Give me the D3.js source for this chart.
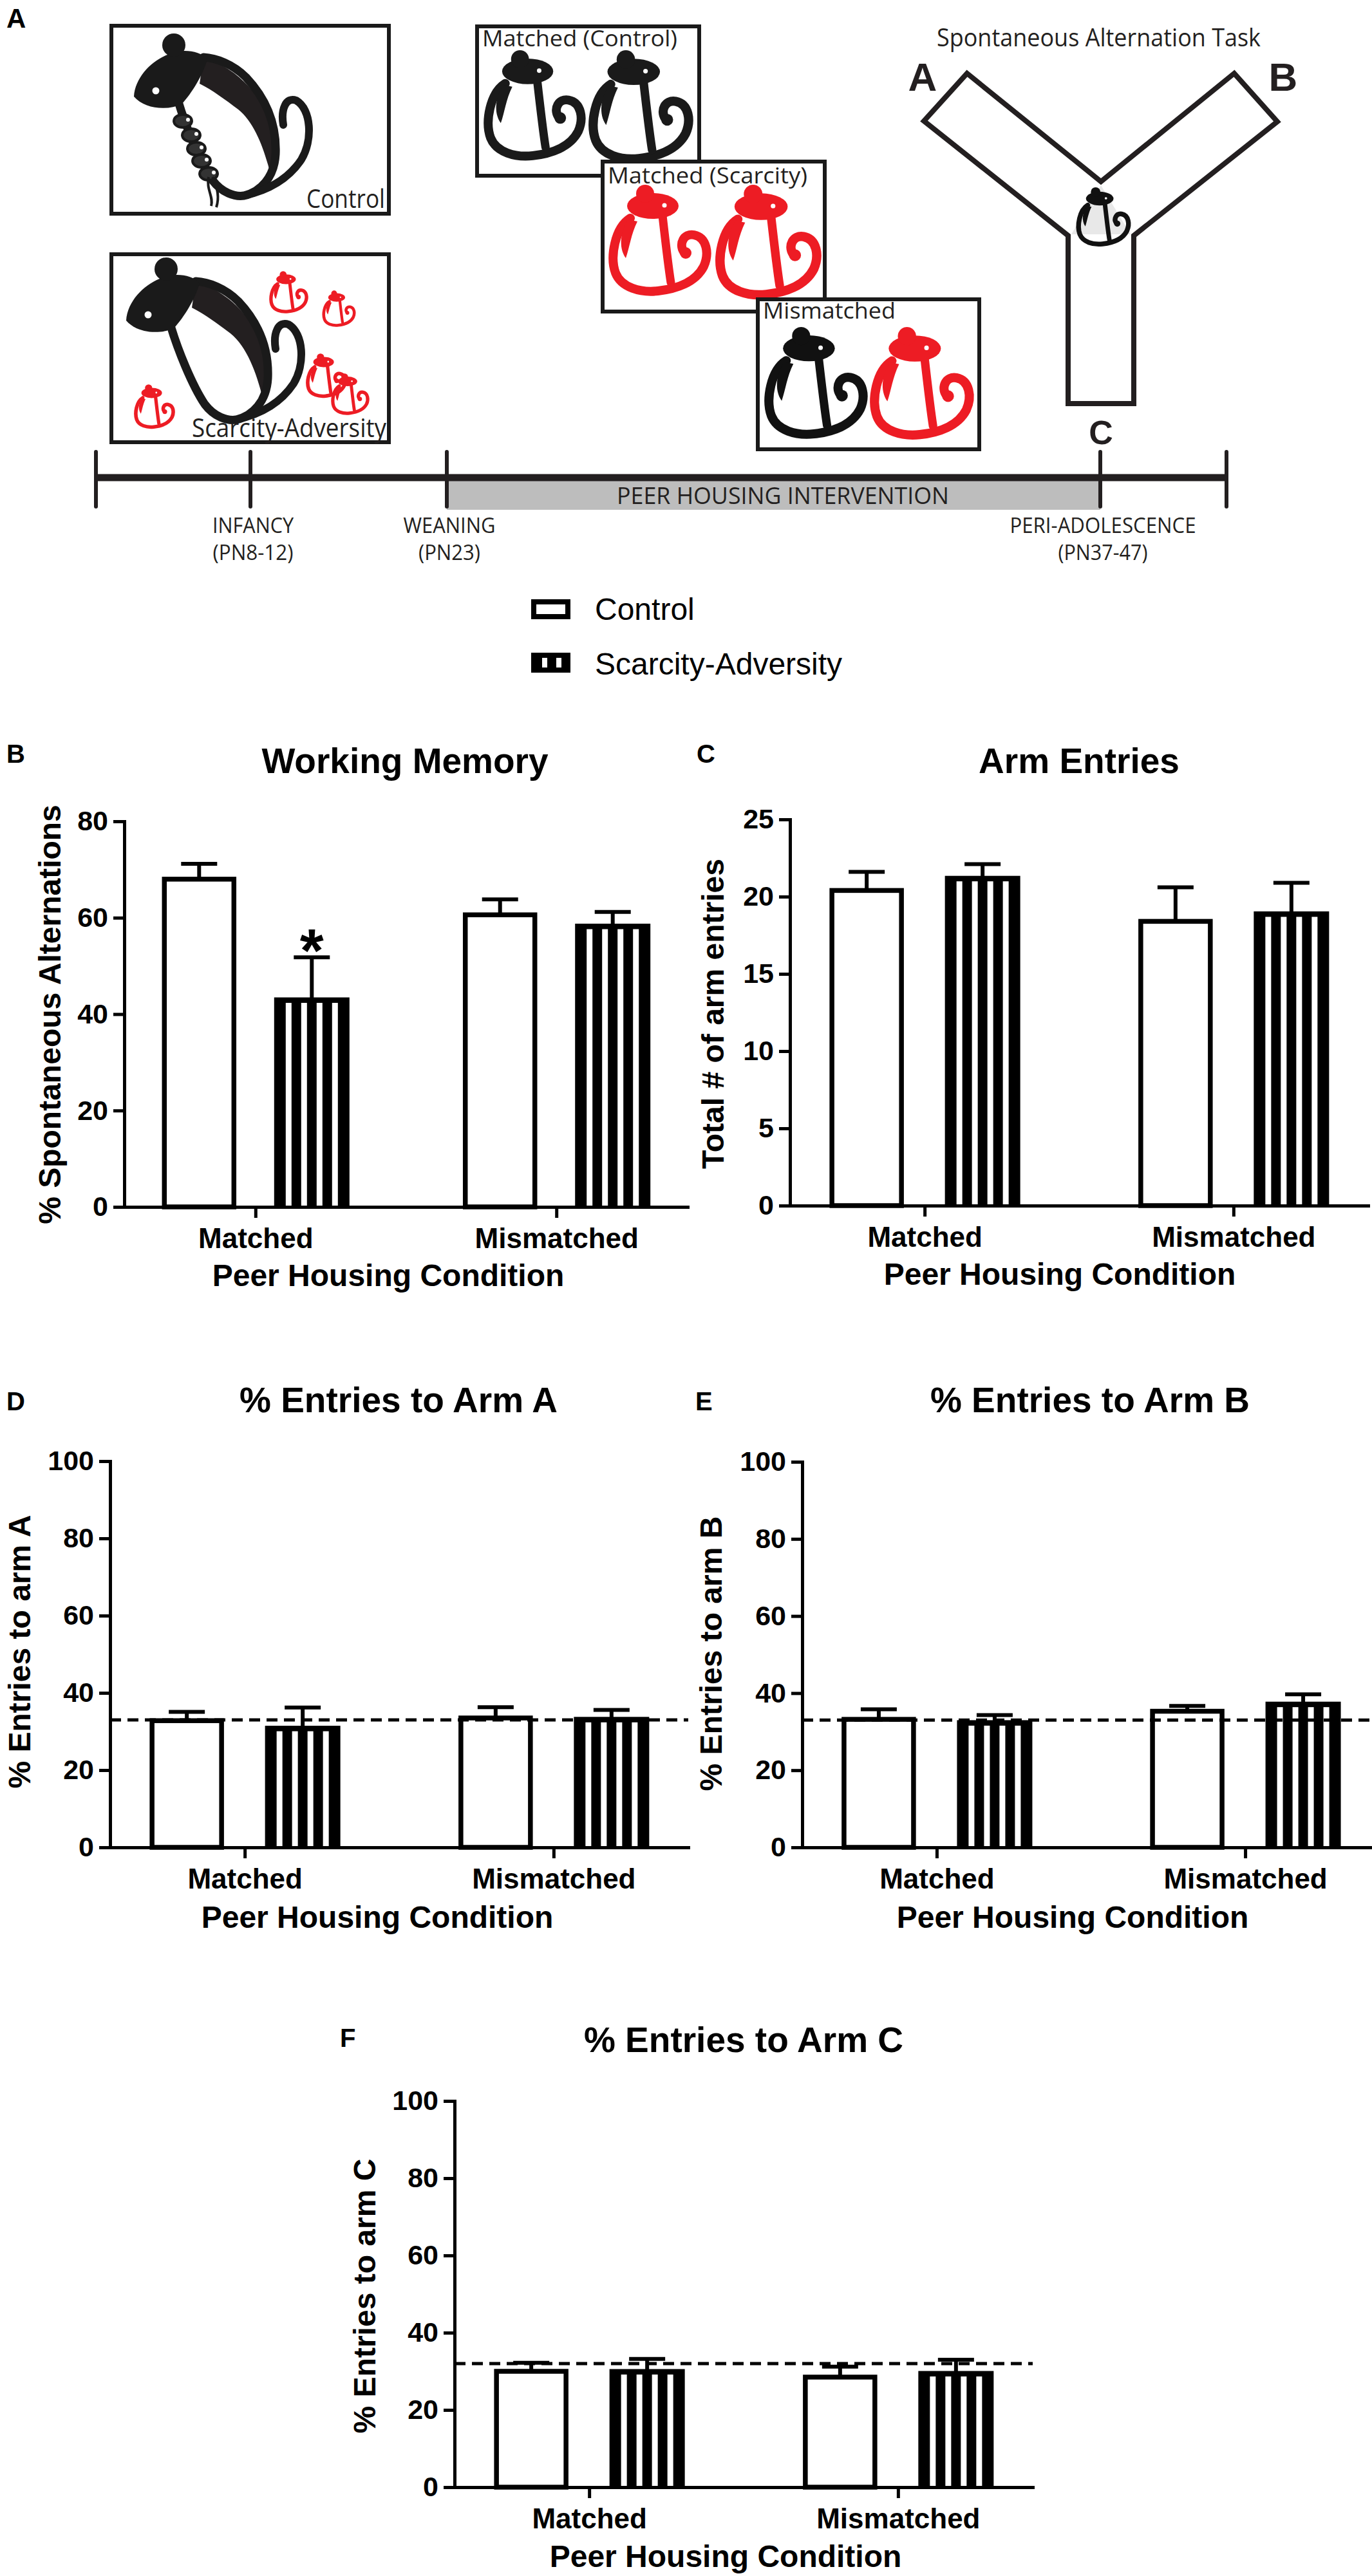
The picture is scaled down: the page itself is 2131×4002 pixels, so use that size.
<!DOCTYPE html>
<html>
<head>
<meta charset="utf-8">
<script src="https://cdn.jsdelivr.net/npm/d3@7"></script>
<style>
  body { margin: 0; background: #fff; }
</style>
</head>
<body>
<svg id="fig"></svg>
<script>
const width = 2131,
      height = 4002;

const FONT = "'Liberation Sans', Arial, sans-serif";
const NARROW = "'Liberation Sans Narrow', 'Open Sans', sans-serif";
const INK = "#1a1a1a";
const RED = "#ed1c24";

// ---- data ----
const conditions = ["Matched", "Mismatched"];
const groups = ["Control", "Scarcity-Adversity"];

const wmControl = [68.0, 60.6],   wmControlErr = [3.2, 3.2];
const wmScarcity = [43.0, 58.3],  wmScarcityErr = [8.8, 2.9];

const entControl = [20.4, 18.4],  entControlErr = [1.2, 2.2];
const entScarcity = [21.2, 18.9], entScarcityErr = [0.9, 2.0];

const armAControl = [32.8, 33.5],  armAControlErr = [2.3, 2.8];
const armAScarcity = [30.9, 33.2], armAScarcityErr = [5.3, 2.4];

const armBControl = [33.2, 35.3],  armBControlErr = [2.6, 1.4];
const armBScarcity = [32.4, 37.2], armBScarcityErr = [1.9, 2.5];

const armCControl = [30.0, 28.5],  armCControlErr = [2.2, 2.7];
const armCScarcity = [30.0, 29.5], armCScarcityErr = [3.2, 3.5];

const chanceLevel = [33, 33, 32];   // dashed reference lines in D, E, F

const ticksWM = [0, 20, 40, 60, 80];
const ticksEnt = [0, 5, 10, 15, 20, 25];
const ticksPct = [0, 20, 40, 60, 80, 100];

const stageNames = ["INFANCY", "WEANING", "PERI-ADOLESCENCE"];
const stageAges = ["(PN8-12)", "(PN23)", "(PN37-47)"];

const svg = d3.select("#fig").attr("width", width).attr("height", height);
svg.append("rect").attr("width", width).attr("height", height).attr("fill", "#fff");

// narrow text, width forced to what the picture shows
function ntext(g, str, x, y, len, size, anchor) {
    return g.append("text")
        .attr("x", x).attr("y", y)
        .attr("font-family", NARROW).attr("font-size", size)
        .attr("fill", "#231f20")
        .attr("text-anchor", anchor || "start")
        .attr("textLength", len).attr("lengthAdjust", "spacingAndGlyphs")
        .text(str);
}

// small curled mouse, local box 150 x 165
function mouse(g, x, y, w, color) {
    const s = w / 150;
    const m = g.append("g").attr("transform", `translate(${x},${y}) scale(${s})`);
    m.append("path")
        .attr("d", "M29,50 C5,65 -3,110 6,135 C15,158 45,166 72,163 C100,160 130,150 143,125 C152,105 148,80 128,76 C112,73 104,90 112,102")
        .attr("fill", "none").attr("stroke", color).attr("stroke-width", 14).attr("stroke-linecap", "round");
    m.append("path")
        .attr("d", "M79,46 C84,90 88,125 92,150")
        .attr("fill", "none").attr("stroke", color).attr("stroke-width", 13).attr("stroke-linecap", "round");
    m.append("path")
        .attr("d", "M26,52 C14,70 10,95 22,112 C28,95 30,75 40,55 Z")
        .attr("fill", color);
    m.append("circle").attr("cx", 115).attr("cy", 104).attr("r", 9).attr("fill", color);
    m.append("ellipse").attr("cx", 64).attr("cy", 31).attr("rx", 40).attr("ry", 20).attr("fill", color);
    m.append("circle").attr("cx", 52).attr("cy", 12).attr("r", 14).attr("fill", color);
    m.append("circle").attr("cx", 82).attr("cy", 30).attr("r", 3.5).attr("fill", "#fff");
}

// big adult mouse, origin at the ear
function mother(g, x, y, pups) {
    const m = g.append("g").attr("transform", `translate(${x},${y})`);
    m.append("path")
        .attr("d", "M46,19 C102,38 140,80 156,139 C160,165 156,185 150,200 C140,160 125,120 100,100 C80,85 60,70 40,60 Z")
        .attr("fill", "#231f20");
    m.append("path")
        .attr("d", "M7,88 C18,125 40,180 60,210 C75,230 95,236 109,234 C135,228 156,205 158,170 C160,125 145,85 112,50 C92,30 66,20 46,19")
        .attr("fill", "none").attr("stroke", INK).attr("stroke-width", 13).attr("stroke-linecap", "round");
    m.append("path")
        .attr("d", "M109,234 C150,225 180,205 198,178 C216,148 214,100 190,86 C174,80 166,100 170,124")
        .attr("fill", "none").attr("stroke", INK).attr("stroke-width", 12).attr("stroke-linecap", "round");
    m.append("path")
        .attr("d", "M-62,80 C-60,50 -35,25 -10,15 C10,5 40,8 52,22 C46,45 28,75 12,92 C-10,102 -45,100 -62,80 Z")
        .attr("fill", INK);
    m.append("circle").attr("r", 18).attr("fill", INK);
    m.append("circle").attr("cx", -28).attr("cy", 71).attr("r", 5.5).attr("fill", "#fff");
    if (pups) {
        const spots = [[14, 118], [27, 140], [35, 161], [43, 180], [54, 200]];
        spots.forEach(([px, py]) => {
            m.append("ellipse").attr("cx", px).attr("cy", py).attr("rx", 14).attr("ry", 10)
                .attr("fill", "#333").attr("stroke", INK).attr("stroke-width", 4);
            m.append("circle").attr("cx", px + 8).attr("cy", py - 2).attr("r", 3).attr("fill", "#fff");
        });
        m.append("path").attr("d", "M54,205 C50,225 62,235 58,250 M60,205 C70,225 70,240 66,252")
            .attr("fill", "none").attr("stroke", INK).attr("stroke-width", 4);
    }
}

// ---------------- panel A ----------------
const A = svg.append("g");
A.append("text").attr("x", 10).attr("y", 43).attr("font-family", FONT).attr("font-weight", "bold")
    .attr("font-size", 42).text("A");

function box(x0, y0, x1, y1) {
    A.append("rect").attr("x", x0 + 3).attr("y", y0 + 3).attr("width", x1 - x0 - 6).attr("height", y1 - y0 - 6)
        .attr("fill", "#fff").attr("stroke", INK).attr("stroke-width", 6);
}

box(170, 37, 607, 335);
mother(A, 270, 70, true);
ntext(A, "Control", 598, 323, 122, 40, "end");

box(170, 392, 607, 690);
mother(A, 258, 418, false);
[[420, 422, 57], [502, 452, 49], [477, 550, 60], [516, 581, 56], [210, 598, 60]]
    .forEach(([x, y, w]) => mouse(A, x, y, w, RED));
ntext(A, "Scarcity-Adversity", 600, 679, 302, 40, "end");

box(738, 38, 1089, 276);
ntext(A, "Matched (Control)", 749, 72, 303, 34);
mouse(A, 756, 80, 149, INK);
mouse(A, 919, 80, 153, INK);

box(933, 248, 1284, 487);
ntext(A, "Matched (Scarcity)", 944, 285, 310, 34);
mouse(A, 950, 289, 150, RED);
mouse(A, 1116, 289, 155, RED);

box(1174, 462, 1524, 701);
ntext(A, "Mismatched", 1185, 495, 206, 34);
mouse(A, 1192, 510, 151, "#111");
mouse(A, 1356, 510, 152, RED);

// Y maze
ntext(A, "Spontaneous Alternation Task", 1455, 72, 503, 38);
A.append("polygon")
    .attr("points", "1502,114 1435,188 1659,366 1659,627 1761,627 1761,366 1984,189 1917,114 1710,282")
    .attr("fill", "#fff").attr("stroke", "#231f20").attr("stroke-width", 8).attr("stroke-linejoin", "miter");
A.append("polygon").attr("points", "1710,288 1664,364 1756,364").attr("fill", "#e8e8e8");
mouse(A, 1674, 292, 80, "#111");
[["A", 1433, 141, 62], ["B", 1993, 141, 62], ["C", 1710, 690, 52]].forEach(([t, x, y, s]) => {
    A.append("text").attr("x", x).attr("y", y).attr("text-anchor", "middle")
        .attr("font-family", FONT).attr("font-weight", "bold").attr("font-size", s)
        .attr("fill", "#231f20").text(t);
});

// timeline
const stageX = [149, 389, 694, 1709, 1905];
A.append("rect").attr("x", stageX[2]).attr("y", 747).attr("width", stageX[3] - stageX[2]).attr("height", 45)
    .attr("fill", "#bdbdbd");
A.append("line").attr("x1", stageX[0]).attr("x2", stageX[4]).attr("y1", 742).attr("y2", 742)
    .attr("stroke", "#231f20").attr("stroke-width", 11);
A.selectAll("line.tk").data(stageX).join("line").attr("class", "tk")
    .attr("x1", d => d).attr("x2", d => d).attr("y1", 702).attr("y2", 787)
    .attr("stroke", "#231f20").attr("stroke-width", 6).attr("stroke-linecap", "round");
ntext(A, "PEER HOUSING INTERVENTION", 1216, 783, 516, 37, "middle");
const nameLen = [126, 143, 289], ageLen = [125, 96, 139];
[1, 2, 3].forEach((k, i) => {
    ntext(A, stageNames[i], stageX[k] + 4, 828, nameLen[i], 32, "middle");
    ntext(A, stageAges[i], stageX[k] + 4, 870, ageLen[i], 32, "middle");
});

// legend
const L = svg.append("g");
L.append("rect").attr("x", 829).attr("y", 935).attr("width", 53).attr("height", 23)
    .attr("fill", "#fff").attr("stroke", "#000").attr("stroke-width", 8);
L.append("rect").attr("x", 825).attr("y", 1014).attr("width", 61).attr("height", 31).attr("fill", "#000");
[842, 864].forEach(x => L.append("rect").attr("x", x).attr("y", 1022).attr("width", 8).attr("height", 15).attr("fill", "#fff"));
L.append("text").attr("x", 924).attr("y", 963).attr("font-family", FONT).attr("font-size", 48).text(groups[0]);
L.append("text").attr("x", 924).attr("y", 1048).attr("font-family", FONT).attr("font-size", 48).text(groups[1]);

// ---------------- bar panels ----------------
const panels = [
    { letter: "B", lx: 10, ly: 1185, title: "Working Memory", tx: 629, ty: 1201,
      x0: 193, xEnd: 1068, y0: 1875, y1: 1276, max: 80, ticks: ticksWM, off: 87.5,
      ylab: "% Spontaneous Alternations", ylx: 77, yly: 1576, xlx: 603, xly: 1998,
      control: wmControl, controlErr: wmControlErr, scarcity: wmScarcity, scarcityErr: wmScarcityErr,
      star: [["Matched", "Scarcity-Adversity"]] },
    { letter: "C", lx: 1082, ly: 1185, title: "Arm Entries", tx: 1676, ty: 1201,
      x0: 1227, xEnd: 2125, y0: 1873, y1: 1273, max: 25, ticks: ticksEnt, off: 90,
      ylab: "Total # of arm entries", ylx: 1107, yly: 1575, xlx: 1646, xly: 1996,
      control: entControl, controlErr: entControlErr, scarcity: entScarcity, scarcityErr: entScarcityErr },
    { letter: "D", lx: 10, ly: 2191, title: "% Entries to Arm A", tx: 619, ty: 2194,
      x0: 171, xEnd: 1069, y0: 2870, y1: 2270, max: 100, ticks: ticksPct, off: 90,
      ylab: "% Entries to arm A", ylx: 30, yly: 2566, xlx: 586, xly: 2995, chance: chanceLevel[0],
      control: armAControl, controlErr: armAControlErr, scarcity: armAScarcity, scarcityErr: armAScarcityErr },
    { letter: "E", lx: 1080, ly: 2191, title: "% Entries to Arm B", tx: 1693, ty: 2194,
      x0: 1246, xEnd: 2143, y0: 2870, y1: 2271, max: 100, ticks: ticksPct, off: 90,
      ylab: "% Entries to arm B", ylx: 1104, yly: 2569, xlx: 1666, xly: 2995, chance: chanceLevel[1],
      control: armBControl, controlErr: armBControlErr, scarcity: armBScarcity, scarcityErr: armBScarcityErr },
    { letter: "F", lx: 528, ly: 3180, title: "% Entries to Arm C", tx: 1155, ty: 3188,
      x0: 706, xEnd: 1604, y0: 3864, y1: 3264, max: 100, ticks: ticksPct, off: 90,
      ylab: "% Entries to arm C", ylx: 566, yly: 3567, xlx: 1127, xly: 3988, chance: chanceLevel[2],
      control: armCControl, controlErr: armCControlErr, scarcity: armCScarcity, scarcityErr: armCScarcityErr }
];

function barPanel(p) {
    const g = svg.append("g");
    const y = d3.scaleLinear().domain([0, p.max]).range([p.y0, p.y1]);
    const x0 = d3.scalePoint().domain(conditions).range([p.x0, p.xEnd]).padding(0.436);
    const x1 = d3.scalePoint().domain(groups).range([-p.off, p.off]);

    const rows = conditions.flatMap((c, i) => [
        { cond: c, group: groups[0], v: p.control[i], e: p.controlErr[i] },
        { cond: c, group: groups[1], v: p.scarcity[i], e: p.scarcityErr[i] }
    ]);
    const cx = d => x0(d.cond) + x1(d.group);

    // error bars (upper only)
    const eb = g.selectAll("g.eb").data(rows).join("g").attr("class", "eb")
        .attr("stroke", "#000").attr("stroke-width", 6);
    eb.append("line").attr("x1", cx).attr("x2", cx)
        .attr("y1", d => y(d.v)).attr("y2", d => y(d.v + d.e));
    eb.append("line").attr("x1", d => cx(d) - 28).attr("x2", d => cx(d) + 28)
        .attr("y1", d => y(d.v + d.e)).attr("y2", d => y(d.v + d.e));

    // control: open bars
    g.selectAll("rect.ctl").data(rows.filter(d => d.group === groups[0])).join("rect").attr("class", "ctl")
        .attr("x", d => cx(d) - 54).attr("width", 108)
        .attr("y", d => y(d.v)).attr("height", d => p.y0 - y(d.v))
        .attr("fill", "#fff").attr("stroke", "#000").attr("stroke-width", 7.5);

    // scarcity-adversity: black bars with white vertical stripes
    const sc = rows.filter(d => d.group === groups[1]);
    g.selectAll("rect.sc").data(sc).join("rect").attr("class", "sc")
        .attr("x", d => cx(d) - 58.5).attr("width", 117)
        .attr("y", d => y(d.v) - 3.5).attr("height", d => p.y0 - y(d.v) + 3.5)
        .attr("fill", "#000");
    sc.forEach(d => {
        g.selectAll(null).data(d3.range(4)).join("rect")
            .attr("x", i => cx(d) - 58.5 + 18 + i * 24).attr("width", 9)
            .attr("y", y(d.v) + 5).attr("height", p.y0 - y(d.v) - 7)
            .attr("fill", "#fff");
    });

    if (p.chance !== undefined) {
        g.append("line").attr("x1", p.x0).attr("x2", p.xEnd)
            .attr("y1", y(p.chance)).attr("y2", y(p.chance))
            .attr("stroke", "#000").attr("stroke-width", 5).attr("stroke-dasharray", "17,10");
    }

    if (p.star) {
        p.star.forEach(([c, grp]) => {
            const d = rows.find(r => r.cond === c && r.group === grp);
            g.append("text").attr("x", cx(d)).attr("y", y(d.v + d.e) + 22)
                .attr("text-anchor", "middle").attr("font-family", FONT).attr("font-weight", "bold")
                .attr("font-size", 95).text("*");
        });
    }

    // axes
    const ya = g.append("g").attr("transform", `translate(${p.x0},0)`)
        .call(d3.axisLeft(y).tickValues(p.ticks).tickSize(17).tickPadding(8).tickSizeOuter(0));
    const xa = g.append("g").attr("transform", `translate(0,${p.y0})`)
        .call(d3.axisBottom(x0).tickSize(17).tickPadding(16).tickSizeOuter(0));
    [ya, xa].forEach(a => {
        a.attr("font-family", FONT).attr("font-weight", "bold").attr("font-size", 43);
        a.select(".domain").attr("stroke", "#000").attr("stroke-width", 5).attr("stroke-linecap", "square");
        a.selectAll(".tick line").attr("stroke", "#000").attr("stroke-width", 5);
        a.selectAll(".tick text").attr("fill", "#000");
    });
    xa.attr("font-size", 44);

    // labels
    g.append("text").attr("x", p.lx).attr("y", p.ly).attr("font-family", FONT).attr("font-weight", "bold")
        .attr("font-size", 40).text(p.letter);
    g.append("text").attr("x", p.tx).attr("y", p.ty).attr("text-anchor", "middle")
        .attr("font-family", FONT).attr("font-weight", "bold").attr("font-size", 55).text(p.title);
    g.append("text").attr("transform", `translate(${p.ylx},${p.yly}) rotate(-90)`)
        .attr("text-anchor", "middle").attr("dominant-baseline", "central")
        .attr("font-family", FONT).attr("font-weight", "bold").attr("font-size", 48).text(p.ylab);
    g.append("text").attr("x", p.xlx).attr("y", p.xly).attr("text-anchor", "middle")
        .attr("font-family", FONT).attr("font-weight", "bold").attr("font-size", 48)
        .text("Peer Housing Condition");
}

panels.forEach(barPanel);
</script>
</body>
</html>
